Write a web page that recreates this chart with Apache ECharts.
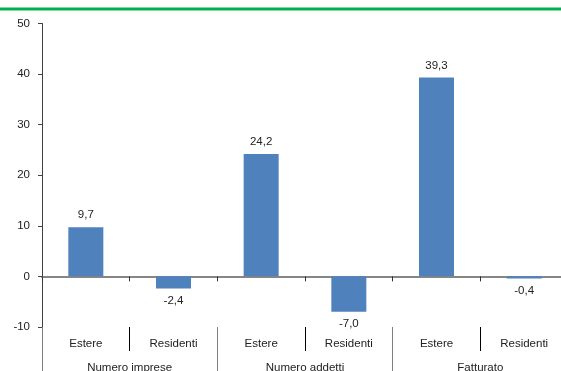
<!DOCTYPE html>
<html>
<head>
<meta charset="utf-8">
<script src="https://cdn.jsdelivr.net/npm/echarts@6/dist/echarts.min.js"></script>
<style>
html, body { margin: 0; padding: 0; background: #fff; }
#main { width: 561px; height: 371px; }
</style>
</head>
<body>
<div id="main"></div>
<script>
var categories = ['Estere', 'Residenti', 'Estere', 'Residenti', 'Estere', 'Residenti'];
var groups = ['Numero imprese', 'Numero addetti', 'Fatturato'];
var values = [9.7, -2.4, 24.2, -7.0, 39.3, -0.4];
var yTicks = { min: -20, max: 50, step: 10, lowestShown: -10 };

var FONT = "'Liberation Sans Narrow', 'Arial Narrow', 'Liberation Sans', sans-serif";
var FS = 11.5;
var myChart = echarts.init(document.getElementById('main'));

var barData = values.map(function (v) {
    return {
        value: v,
        label: { position: v < 0 ? 'bottom' : 'top' }
    };
});

var option = {
    animation: false,
    graphic: [{
        type: 'line',
        shape: { x1: 0, y1: 9, x2: 561, y2: 9 },
        style: { stroke: '#00B050', lineWidth: 3 }
    }],
    grid: [
        { left: 42, right: -7, top: 23.5, height: 354, outerBoundsMode: 'none', containLabel: false },
        { left: 42, right: -7, top: 327, height: 60, outerBoundsMode: 'none', containLabel: false }
    ],
    xAxis: [
        {
            type: 'category',
            gridIndex: 0,
            data: categories,
            axisLine: { lineStyle: { color: '#868686', width: 2 } },
            axisTick: { show: true, interval: 0, length: 5, lineStyle: { color: '#333' } },
            axisLabel: { show: false }
        },
        {
            // righe separatrici tra categorie + etichette
            type: 'category',
            gridIndex: 1,
            position: 'top',
            data: categories,
            axisLine: { show: false, onZero: false },
            axisTick: { show: true, inside: true, interval: 0, length: 24, lineStyle: { color: '#000' } },
            axisLabel: { inside: true, interval: 0, margin: 11, color: '#222', fontSize: FS, fontFamily: FONT }
        },
        {
            type: 'category',
            gridIndex: 1,
            position: 'top',
            data: groups,
            axisLine: { show: false, onZero: false },
            axisTick: { show: true, inside: true, interval: 0, length: 60, lineStyle: { color: '#7f7f7f' } },
            axisLabel: { inside: true, interval: 0, margin: 35, color: '#222', fontSize: FS, fontFamily: FONT }
        }
    ],
    yAxis: [
        {
            type: 'value',
            gridIndex: 0,
            min: yTicks.min,
            max: yTicks.max,
            interval: yTicks.step,
            splitLine: { show: false },
            axisLine: { show: true, onZero: false, lineStyle: { color: '#404040' } },
            axisTick: { show: true, length: 4, lineStyle: { color: '#404040' } },
            axisLabel: {
                color: '#222',
                fontSize: FS,
                margin: 12,
                fontFamily: FONT,
                formatter: function (v) {
                    return v < yTicks.lowestShown ? '' : String(v);
                }
            }
        },
        {
            type: 'value',
            gridIndex: 1,
            show: false
        }
    ],
    series: [{
        type: 'bar',
        xAxisIndex: 0,
        yAxisIndex: 0,
        barWidth: 35,
        itemStyle: { color: '#4F81BD' },
        label: {
            show: true,
            distance: 6,
            color: '#222',
            fontSize: FS,
            fontFamily: FONT,
            formatter: function (p) {
                return p.value.toFixed(1).replace('.', ',');
            }
        },
        data: barData
    }]
};
myChart.setOption(option);
</script>
</body>
</html>
